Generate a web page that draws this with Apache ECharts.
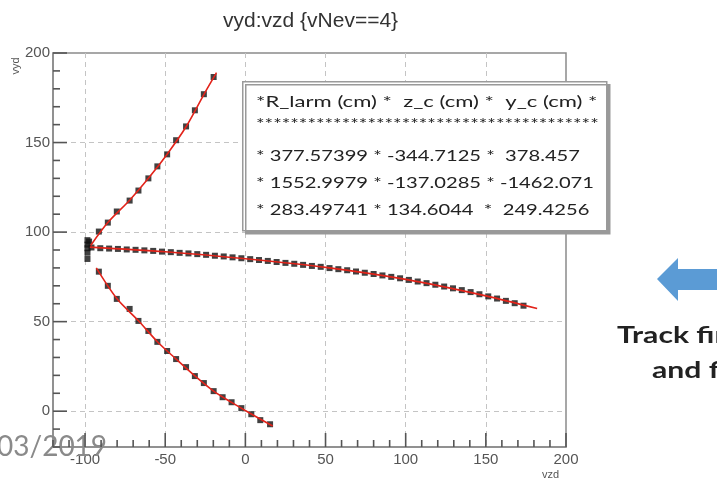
<!DOCTYPE html>
<html>
<head>
<meta charset="utf-8">
<script src="https://cdn.jsdelivr.net/npm/echarts@6/dist/echarts.min.js"></script>
<style>
  html,body{margin:0;padding:0;background:#fff;}
  #chart{width:717px;height:482px;}
</style>
</head>
<body>
<div id="chart"></div>
<script>
  // track points [vzd, vyd]
  var trackUp = [[-97.5,94.7],[-91.4,100.3],[-85.8,105.3],[-80.2,111.5],[-72.2,117.6],[-66.7,123.2],[-60.5,130],
    [-54.9,136.7],[-48.8,143.4],[-43.2,151.3],[-37,159],[-31.5,168],[-25.9,177],[-19.8,186.6]]
  var trackMid = [[-96,91.4],[-90.5,91],[-85,90.8],[-79.5,90.6],[-74,90.3],[-68.5,90.1],[-63,89.8],[-57.5,89.5],
    [-52,89.1],[-46.5,88.8],[-41,88.4],[-35.5,88.1],[-30,87.7],[-24.5,87.3],[-19,86.8],[-13.5,86.4],[-8,85.9],
    [-2.5,85.4],[3,84.9],[8.5,84.4],[14,83.9],[19.5,83.3],[25,82.8],[30.5,82.3],[36,81.7],[41.5,81.1],[47,80.6],
    [52.5,79.9],[58,79.3],[63.5,78.7],[69,78],[74.5,77.3],[80,76.6],[85.5,75.8],[91,75],[96.5,74.2],[102,73.3],
    [107.5,72.4],[113,71.5],[118.5,70.6],[124,69.6],[129.5,68.6],[135,67.6],[140.5,66.5],[146,65.3],[151.5,64.1],
    [157,62.9],[162.5,61.6],[168,60.3],[173.5,58.9]]
  var trackLow = [[-91.4,77.9],[-85.8,70],[-80.2,62.7],[-72.2,57.1],[-66.7,50.4],[-60.5,44.8],[-54.9,38.7],
    [-48.8,33.6],[-43.2,29.1],[-37,24.6],[-31.5,19.6],[-25.9,15.7],[-19.8,11.2],[-14.2,7.8],[-8.6,5],[-2.5,1.7],
    [3.7,-1.7],[9.3,-5],[15.4,-7.3]]
  var startCluster = [[-98.5,95.5],[-98.5,93],[-98.5,91],[-98.5,88.5],[-98.5,85]]

  // red fitted curves
  var fitUp = [[-96.5,92.5],[-85.8,105.3],[-72.2,117.8],[-60.5,130],[-48.8,143.5],[-37,158.8],[-25.9,176.8],[-18,189]]
  var fitMid = [[-97,91.6],[-50,89],[0,85.1],[50,80.3],[100,73.6],[150,64.4],[182,57.3]]
  var fitLow = [[-93,80],[-80.2,62.9],[-66.7,50.5],[-54.9,38.8],[-43.2,29.1],[-31.5,19.7],[-19.8,11.2],[-8.6,4.9],[3.7,-1.6],[17,-8.3]]

  // tick positions of the frame (every 10, labels on multiples of 50)
  var xTicks = ['-120','-110','-100','-90','-80','-70','-60','-50','-40','-30','-20','-10','0','10','20','30','40',
    '50','60','70','80','90','100','110','120','130','140','150','160','170','180','190','200']
  var yTicks = ['-20','-10','0','10','20','30','40','50','60','70','80','90','100','110','120','130','140','150',
    '160','170','180','190','200']
  var xMin = -120, xMax = 200, yMin = -20, yMax = 200

  var statsLines = [
    '*R_larm (cm) *  z_c (cm) *  y_c (cm) *',
    '****************************************',
    '* 377.57399 * -344.7125 *  378.457',
    '* 1552.9979 * -137.0285 * -1462.071',
    '* 283.49741 * 134.6044  *  249.4256'
  ]

  var chart = echarts.init(document.getElementById('chart'))

  var isMajor = function (index, value) {
    return Number(value) % 50 === 0
  }
  var isGrid = function (index, value) {
    var v = Number(value)
    return v % 50 === 0 && v !== 200
  }

  var markSeries = function (data) {
    return {
      type:'scatter', symbol:'rect', symbolSize:6, data:data, z:3,
      itemStyle:{color:'#111'}, silent:true
    }
  }
  var fitSeries = function (data) {
    return {
      type:'line', data:data, smooth:0.3, showSymbol:false, z:4, silent:true,
      lineStyle:{color:'#e2231a', width:1.6}
    }
  }

  // ROOT style inside ticks: long on multiples of 50, short otherwise
  var tickSeries = function (ticks, onX) {
    var data = ticks.map(function (t) {
      return onX ? [Number(t), yMin] : [xMin, Number(t)]
    })
    return {
      type:'custom', data:data, z:20, clip:false, silent:true,
      renderItem:function (params, api) {
        var v = onX ? api.value(0) : api.value(1)
        var len = v % 50 === 0 ? 14 : 7
        var p = api.coord([api.value(0), api.value(1)])
        return {
          type:'line',
          shape:onX ? {x1:p[0], y1:p[1], x2:p[0], y2:p[1]-len} : {x1:p[0], y1:p[1], x2:p[0]+len, y2:p[1]},
          style:{stroke:'#555', lineWidth:1.6}
        }
      }
    }
  }

  var rowY = [102,124,156,183,210]
  var rowScale = [1.38,1.26,1.26,1.26,1.26]
  var graphics = [
    {type:'text', left:542, top:469, style:{text:'vzd', font:'11px "Liberation Sans"', fill:'#555'}},
    {type:'text', x:16, y:66, rotation:Math.PI/2,
      style:{text:'vyd', font:'11px "Liberation Sans"', fill:'#555', textAlign:'center', textVerticalAlign:'middle'}},
    {
      type:'rect', left:242, top:81, z:10,
      shape:{width:364, height:149},
      style:{fill:'#fff', stroke:'#9a9a9a', lineWidth:1.5, shadowColor:'#999', shadowOffsetX:3, shadowOffsetY:3, shadowBlur:0}
    }
  ]
  statsLines.forEach(function (t, i) {
    graphics.push({
      type:'text', x:256, y:rowY[i], scaleX:rowScale[i], z:11,
      style:{text:t, font:'16px Lato', fill:'#222', textVerticalAlign:'middle'}
    })
  })
  // slide leftovers round the plot
  graphics.push(
    {type:'text', left:-3, top:433, z:12, style:{text:'03/2019', font:'28px Lato', fill:'#8a8a8a'}},
    {
      type:'polygon', z:12,
      shape:{points:[[657,279],[678,258],[678,269],[720,269],[720,290],[678,290],[678,301]]},
      style:{fill:'#5b9bd5'}
    },
    {type:'text', x:617, y:336, scaleX:1.37, z:12,
      style:{text:'Track finding', font:'bold 22px Lato', fill:'#222', textVerticalAlign:'middle'}},
    {type:'text', x:652, y:371, scaleX:1.37, z:12,
      style:{text:'and fitting', font:'bold 22px Lato', fill:'#222', textVerticalAlign:'middle'}}
  )

  var option = {
    backgroundColor:'#fff',
    animation:false,
    title:{
      text:'vyd:vzd {vNev==4}', left:218, top:6,
      textStyle:{fontFamily:'Liberation Sans', fontSize:21, fontWeight:'normal', color:'#333'}
    },
    grid:{left:53, top:53, right:151, bottom:35, show:true, borderColor:'#8a8a8a', borderWidth:1.5},
    xAxis:[{
      // data axis
      type:'value', min:xMin, max:xMax, position:'bottom',
      axisLine:{show:true, onZero:false, lineStyle:{color:'#8a8a8a', width:1.5}},
      axisTick:{show:false}, axisLabel:{show:false}, splitLine:{show:false}
    },{
      // labels and dashed grid
      type:'category', data:xTicks, boundaryGap:false, position:'bottom',
      axisLine:{show:false, onZero:false}, axisTick:{show:false},
      axisLabel:{interval:isMajor, color:'#555', fontSize:15, margin:5, fontFamily:'Liberation Sans'},
      splitLine:{show:true, interval:isGrid, lineStyle:{color:'#c4c4c4', type:[5,4], width:1}}
    }],
    yAxis:[{
      type:'value', min:yMin, max:yMax, position:'left',
      axisLine:{show:true, onZero:false, lineStyle:{color:'#8a8a8a', width:1.5}},
      axisTick:{show:false}, axisLabel:{show:false}, splitLine:{show:false}
    },{
      type:'category', data:yTicks, boundaryGap:false, position:'left',
      axisLine:{show:false, onZero:false}, axisTick:{show:false},
      axisLabel:{interval:isMajor, color:'#555', fontSize:15, margin:3, fontFamily:'Liberation Sans'},
      splitLine:{show:true, interval:isGrid, lineStyle:{color:'#c4c4c4', type:[5,4], width:1}}
    }],
    series:[
      tickSeries(xTicks, true),
      tickSeries(yTicks, false),
      markSeries(trackUp),
      markSeries(trackMid),
      markSeries(trackLow),
      markSeries(startCluster),
      fitSeries(fitUp),
      fitSeries(fitMid),
      fitSeries(fitLow)
    ],
    graphic:graphics
  }

  chart.setOption(option)
</script>
</body>
</html>
